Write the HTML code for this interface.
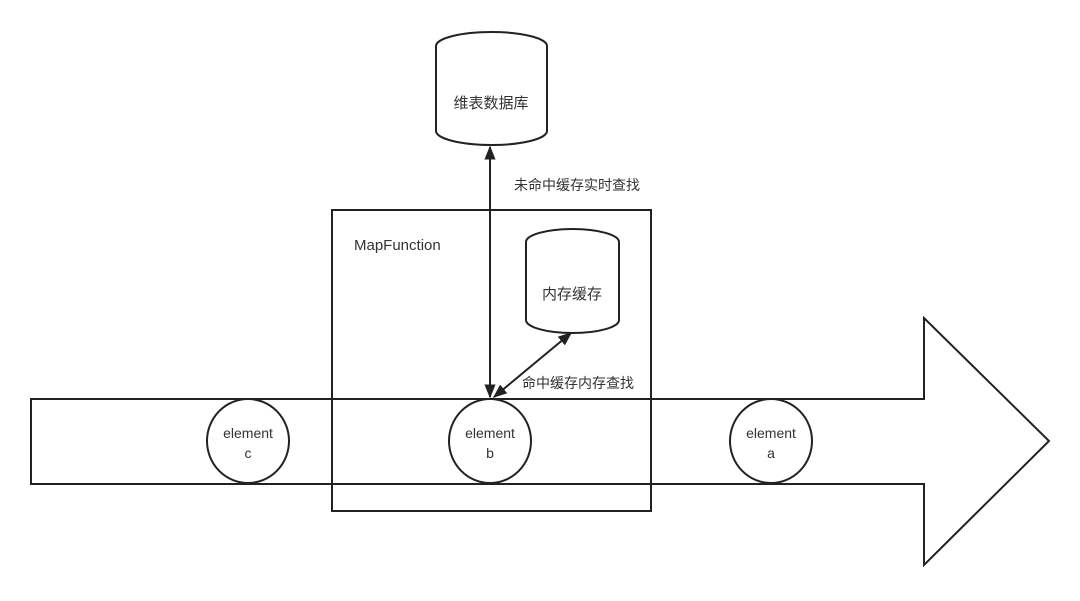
<!DOCTYPE html>
<html><head><meta charset="utf-8"><style>
body{margin:0;background:#fff}
svg text{font-family:"Liberation Sans","Noto Sans CJK SC",sans-serif;fill:#333}
</style></head><body>
<svg width="1080" height="596" viewBox="0 0 1080 596" xmlns="http://www.w3.org/2000/svg">
<defs>
<marker id="a2" viewBox="0 0 10 10" refX="9" refY="5" markerWidth="14" markerHeight="14" orient="auto-start-reverse" markerUnits="userSpaceOnUse">
<path d="M0,1 L10,5 L0,9 z" fill="#222"/>
</marker>
</defs>
<g fill="none" stroke="#222" stroke-width="2">
<path d="M31,399 H924 V318 L1049,441 L924,565 V484 H31 Z" fill="#fff"/>
<rect x="332" y="210" width="319" height="301"/>
<path d="M436,46 A55.5,14 0 0 1 547,46 V131 A55.5,14 0 0 1 436,131 Z" fill="#fff"/>
<path d="M526,242 A46.5,13 0 0 1 619,242 V320 A46.5,13 0 0 1 526,320 Z" fill="#fff"/>
<ellipse cx="248" cy="441" rx="41" ry="42" fill="#fff"/>
<ellipse cx="490" cy="441" rx="41" ry="42" fill="#fff"/>
<ellipse cx="771" cy="441" rx="41" ry="42" fill="#fff"/>
<line x1="490" y1="147" x2="490" y2="397" marker-start="url(#a2)" marker-end="url(#a2)"/>
<line x1="571" y1="333" x2="494" y2="397" marker-start="url(#a2)" marker-end="url(#a2)"/>
</g>
<text x="491" y="108" font-size="15" text-anchor="middle">维表数据库</text>
<text x="572" y="299" font-size="15" text-anchor="middle">内存缓存</text>
<text x="514" y="190" font-size="14">未命中缓存实时查找</text>
<text x="522" y="388" font-size="14">命中缓存内存查找</text>
<text x="354" y="250" font-size="15">MapFunction</text>
<g font-size="14" text-anchor="middle">
<text x="248" y="438">element</text><text x="248" y="458">c</text>
<text x="490" y="438">element</text><text x="490" y="458">b</text>
<text x="771" y="438">element</text><text x="771" y="458">a</text>
</g>
</svg>
</body></html>
